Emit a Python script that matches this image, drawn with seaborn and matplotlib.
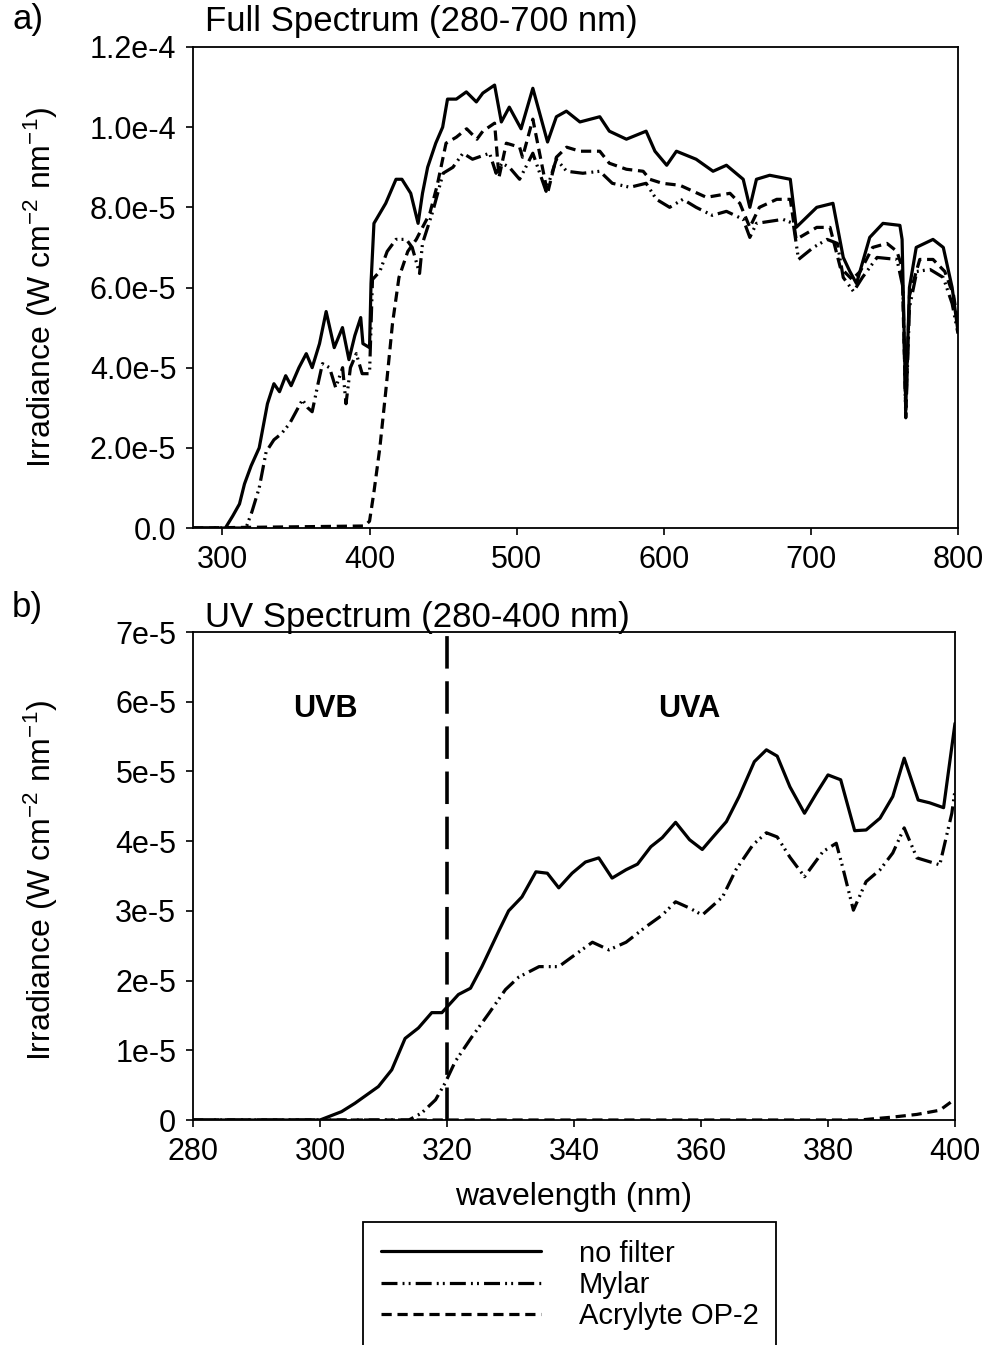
import numpy as np
import pandas as pd
import matplotlib
matplotlib.use("Agg")
import matplotlib.pyplot as plt
import seaborn as sns

###########################################
# Data (irradiance values in units of 1e-5 W cm-2 nm-1)
###########################################

# a) full spectrum
full_nofilter_nm = [280, 302, 307, 311.6, 315, 319.5, 325, 330.6, 335, 338.8, 343, 346.7, 352, 357, 361,
                    366, 370.5, 376, 381.6, 386, 390, 394, 395.5, 400, 401, 403, 407, 411, 418, 422, 428,
                    433, 436, 439.5, 445, 449.7, 453, 459, 465.8, 472.6, 477, 485, 489.6, 495, 503, 511,
                    521, 527, 533.8, 543, 556.5, 563, 574.6, 588, 594, 602, 608.6, 622, 633.5, 642.6, 654,
                    658.5, 663, 672, 686, 690, 697, 704, 715, 722, 726.5, 731, 740, 749, 760.5, 762,
                    764.5, 767, 771.6, 783, 790, 796, 800]
full_nofilter = [0, 0, 0.3, 0.6, 1.1, 1.55, 2.0, 3.1, 3.6, 3.4, 3.8, 3.55, 4.0, 4.35, 4.0,
                 4.6, 5.4, 4.5, 5.0, 4.2, 4.8, 5.25, 4.6, 4.5, 6.1, 7.6, 7.85, 8.1, 8.7, 8.7, 8.35,
                 7.6, 8.35, 9.0, 9.6, 10.0, 10.7, 10.7, 10.88, 10.63, 10.85, 11.05, 10.13, 10.5, 9.96, 10.97,
                 9.63, 10.26, 10.4, 10.13, 10.26, 9.9, 9.7, 9.9, 9.4, 9.05, 9.4, 9.2, 8.9, 9.05, 8.7,
                 8.0, 8.7, 8.8, 8.7, 7.5, 7.75, 8.0, 8.1, 6.75, 6.4, 6.1, 7.25, 7.6, 7.55, 7.2,
                 3.0, 6.0, 7.0, 7.2, 7.0, 6.0, 4.9]

full_mylar_nm = [280, 316, 320, 325, 329.7, 335, 340, 345.6, 350, 354.4, 358, 361, 365, 368, 372.8,
                 377, 381.7, 384, 387, 391, 395, 400, 402, 407, 412, 418, 425, 429, 434, 436, 443,
                 450, 456.7, 463.5, 470, 481.6, 486, 490, 495, 502, 511, 520, 527, 534, 545, 556.5,
                 565, 577, 588, 595, 604, 613, 622, 633, 642.6, 654, 658.5, 663, 681, 688, 691.6,
                 701.7, 711, 718, 722, 729, 735, 745, 758.5, 762.6, 764.5, 767, 772, 781, 790, 796, 800]
full_mylar = [0, 0, 0.4, 1.0, 1.9, 2.2, 2.35, 2.6, 2.9, 3.2, 3.0, 2.9, 3.6, 4.1, 4.0,
              3.5, 4.0, 3.1, 4.0, 4.35, 3.85, 3.85, 6.2, 6.4, 6.9, 7.2, 7.2, 7.0, 6.35, 7.1, 7.9,
              8.85, 9.0, 9.35, 9.2, 9.35, 8.85, 9.1, 9.0, 8.7, 9.35, 8.4, 9.2, 8.9, 8.85, 8.9,
              8.6, 8.5, 8.6, 8.2, 8.0, 8.2, 8.0, 7.8, 7.9, 7.7, 7.25, 7.6, 7.7, 7.6, 6.7,
              7.0, 7.2, 7.1, 6.25, 5.9, 6.25, 6.75, 6.7, 6.0, 2.75, 5.5, 6.4, 6.45, 6.25, 5.6, 4.85]

full_acrylyte_nm = [280, 396, 398, 400, 403, 407, 411, 415.6, 420, 426, 431.8, 436, 441, 446, 452, 459,
                    466, 473, 477, 485, 488, 493, 502, 504, 511, 521, 527, 534, 543, 556.5, 563, 574.6,
                    586, 590.5, 599, 611, 620, 629, 645, 651.7, 658.5, 665, 676.8, 686, 690, 704, 713,
                    720, 728, 733.5, 742, 751.7, 758.5, 762, 764.5, 767, 774, 783, 791, 797, 800]
full_acrylyte = [0, 0.05, 0.1, 0.17, 0.9, 2.0, 3.4, 5.1, 6.25, 6.9, 7.2, 7.5, 7.85, 8.55, 9.6, 9.75,
                 9.96, 9.7, 9.9, 10.1, 8.75, 9.6, 9.5, 9.25, 10.2, 8.35, 9.25, 9.5, 9.4, 9.4, 9.1, 8.95,
                 8.9, 8.7, 8.6, 8.55, 8.4, 8.25, 8.35, 8.1, 7.5, 8.0, 8.2, 8.2, 7.2, 7.5, 7.5,
                 6.5, 6.2, 6.4, 7.0, 7.1, 6.9, 6.5, 2.9, 5.8, 6.7, 6.7, 6.4, 5.8, 5.1]

# b) UV spectrum
uv_nofilter_nm = [280, 300, 303.4, 305.5, 309.2, 311.3, 313.4, 315.5, 317.6, 319.2, 321.8, 323.7, 325.5,
                  328.2, 329.7, 331.8, 334, 335.8, 337.6, 339.7, 341.8, 343.9, 346, 348.2, 350, 352.1,
                  353.9, 356, 358.2, 360.2, 361.8, 364, 366, 368.4, 370.3, 372, 374, 376.3, 378.2, 380,
                  382, 384.2, 386, 388.2, 390.2, 392, 394.2, 396, 398.2, 400]
uv_nofilter = [0, 0, 0.12, 0.24, 0.48, 0.72, 1.17, 1.32, 1.54, 1.54, 1.8, 1.89, 2.2,
               2.72, 3.0, 3.2, 3.56, 3.54, 3.33, 3.54, 3.7, 3.76, 3.47, 3.59, 3.67, 3.92,
               4.05, 4.27, 4.02, 3.88, 4.05, 4.28, 4.64, 5.14, 5.31, 5.22, 4.78, 4.4, 4.69, 4.95,
               4.88, 4.15, 4.16, 4.33, 4.64, 5.19, 4.59, 4.55, 4.48, 5.69]

uv_mylar_nm = [280, 314, 316, 318.2, 319.7, 321.3, 323.9, 326.6, 329.2, 331.3, 334.5, 337.6, 339.7,
               342.9, 345.5, 348.2, 351.3, 353.9, 356, 358.2, 360.2, 363.4, 365.5, 368.2, 370.3, 372,
               374, 376.3, 379.2, 381.3, 382.3, 384, 386, 388.2, 390.2, 392, 394, 397.6, 399.5, 400]
uv_mylar = [0, 0, 0.1, 0.29, 0.53, 0.84, 1.19, 1.53, 1.87, 2.05, 2.2, 2.2, 2.34,
            2.55, 2.44, 2.55, 2.77, 2.94, 3.13, 3.04, 2.94, 3.2, 3.59, 3.95, 4.12, 4.06,
            3.77, 3.49, 3.85, 3.97, 3.63, 3.01, 3.42, 3.59, 3.83, 4.19, 3.76, 3.66, 4.4, 4.73]

uv_acrylyte_nm = [280, 385, 390, 394, 397.6, 400]
uv_acrylyte = [0, 0, 0.04, 0.08, 0.14, 0.3]

series_names = ["no filter", "Mylar", "Acrylyte OP-2"]

full_yticks = [0, 2e-5, 4e-5, 6e-5, 8e-5, 1e-4, 1.2e-4]
full_yticklabels = ["0.0", "2.0e-5", "4.0e-5", "6.0e-5", "8.0e-5", "1.0e-4", "1.2e-4"]
full_xticks = [300, 400, 500, 600, 700, 800]
uv_yticks = [0, 1e-5, 2e-5, 3e-5, 4e-5, 5e-5, 6e-5, 7e-5]
uv_yticklabels = ["0", "1e-5", "2e-5", "3e-5", "4e-5", "5e-5", "6e-5", "7e-5"]
uv_xticks = [280, 300, 320, 340, 360, 380, 400]

###########################################
# Styling
###########################################
sns.set_style("ticks")
plt.rcParams["font.family"] = ["Liberation Sans", "DejaVu Sans"]
plt.rcParams["mathtext.fontset"] = "custom"
plt.rcParams["mathtext.rm"] = "Liberation Sans"
plt.rcParams["mathtext.it"] = "Liberation Sans"
plt.rcParams["mathtext.bf"] = "Liberation Sans:bold"
plt.rcParams["mathtext.default"] = "rm"
plt.rcParams["axes.edgecolor"] = "black"
plt.rcParams["axes.labelcolor"] = "black"
plt.rcParams["axes.linewidth"] = 1.3
plt.rcParams["text.color"] = "black"

fs = 22       # tick labels
fs_lab = 23   # axis labels
fs_title = 25
lw = 2.3
styles = {
    "no filter": "-",
    "Mylar": (0, (5, 1.6, 0.6, 1.3, 0.6, 1.6)),
    "Acrylyte OP-2": (0, (3.2, 1.8)),
}
ylab = "Irradiance (W cm$^{-2}$ nm$^{-1}$)"

fig = plt.figure(figsize=(9.89, 13.45), dpi=100)
ax1 = fig.add_axes([193 / 989, 1 - 528 / 1345, (958 - 193) / 989, (528 - 47) / 1345])
ax2 = fig.add_axes([193 / 989, 1 - 1120 / 1345, (955 - 193) / 989, (1120 - 632) / 1345])


def draw(ax, xs, ys):
    for name, x, y in zip(series_names, xs, ys):
        sns.lineplot(x=np.array(x), y=np.array(y) * 1e-5, ax=ax, color="black", lw=lw,
                     linestyle=styles[name], estimator=None, sort=False, label=name, legend=False)


# a) full spectrum
draw(ax1, [full_nofilter_nm, full_mylar_nm, full_acrylyte_nm],
     [full_nofilter, full_mylar, full_acrylyte])
ax1.set_xlim(280, 800)
ax1.set_ylim(0, 1.2e-4)
ax1.set_xticks(full_xticks)
ax1.set_yticks(full_yticks)
ax1.set_yticklabels(full_yticklabels)
ax1.set_xlabel("")
ax1.set_ylabel(ylab, fontsize=fs_lab, color="black")
ax1.yaxis.set_label_coords((60 - 193) / 765, 0.5)

# b) UV spectrum
draw(ax2, [uv_nofilter_nm, uv_mylar_nm, uv_acrylyte_nm],
     [uv_nofilter, uv_mylar, uv_acrylyte])
ax2.axvline(320, color="black", lw=2.6, dashes=(9, 3.5))
ax2.set_xlim(280, 400)
ax2.set_ylim(0, 7e-5)
ax2.set_xticks(uv_xticks)
ax2.set_yticks(uv_yticks)
ax2.set_yticklabels(uv_yticklabels)
ax2.set_xlabel("wavelength (nm)", fontsize=fs_lab, labelpad=11, color="black")
ax2.set_ylabel(ylab, fontsize=fs_lab, color="black")
ax2.yaxis.set_label_coords((60 - 193) / 762, 0.49)
ax2.text(300.8, 5.9e-5, "UVB", fontsize=fs, fontweight="bold", ha="center", va="center")
ax2.text(358.2, 5.9e-5, "UVA", fontsize=fs, fontweight="bold", ha="center", va="center")

for ax in (ax1, ax2):
    ax.tick_params(axis="both", direction="out", length=5, width=1.2, labelsize=fs, pad=7,
                   colors="black")
    for sp in ax.spines.values():
        sp.set_visible(True)
        sp.set_color("black")

fig.text(12 / 989, 1 - 20 / 1345, "a)", fontsize=fs_title, va="center", ha="left")
fig.text(205 / 989, 1 - 22 / 1345, "Full Spectrum (280-700 nm)", fontsize=fs_title, va="center", ha="left")
fig.text(12 / 989, 1 - 607 / 1345, "b)", fontsize=fs_title, va="center", ha="left")
fig.text(205 / 989, 1 - 618 / 1345, "UV Spectrum (280-400 nm)", fontsize=fs_title, va="center", ha="left")

handles = ax2.get_lines()[:3]
leg = fig.legend(handles=handles, labels=series_names, loc="upper left",
                 bbox_to_anchor=(363 / 989, 1 - 1222 / 1345), fontsize=21,
                 frameon=True, fancybox=False, framealpha=1, edgecolor="black",
                 borderpad=0.6, handlelength=5.5, handletextpad=1.3, labelspacing=0.12,
                 borderaxespad=0)
leg.get_frame().set_linewidth(1.3)

fig.savefig("out.png", dpi=100)
